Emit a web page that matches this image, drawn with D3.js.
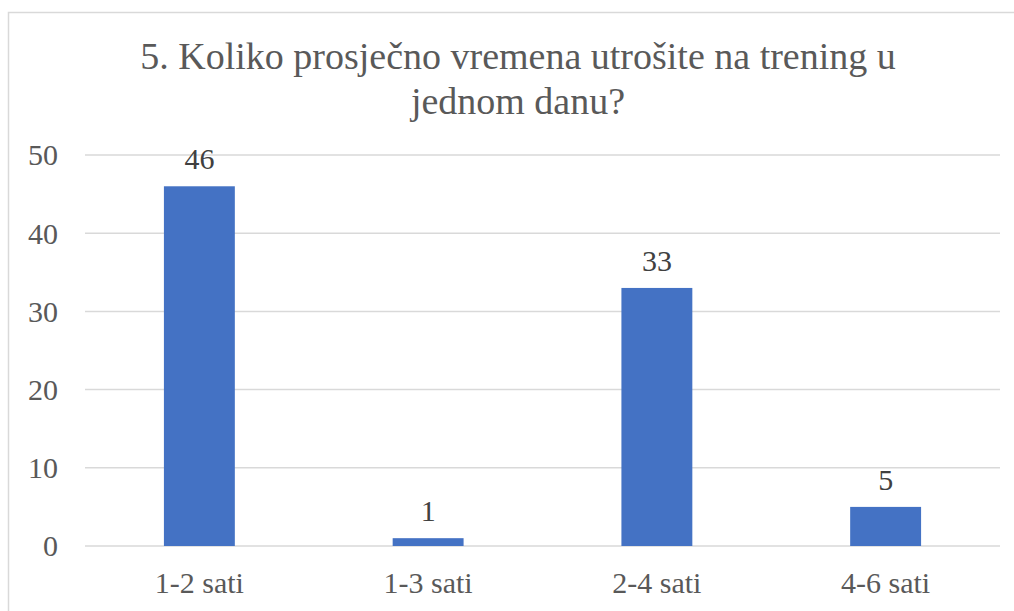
<!DOCTYPE html>
<html>
<head>
<meta charset="utf-8">
<script src="https://cdn.jsdelivr.net/npm/d3@7"></script>
<style>
  @font-face { font-family: "ChartSerif"; src: local("Liberation Serif"), local("LiberationSerif"), local("Liberation Serif Regular"), local("LiberationSerif-Regular"); }
</style>
</head>
<body style="margin:0;padding:0;background:#fff">
<svg id="chart" width="1014" height="611" style="display:block"></svg>
<script>
// data
const categories = ['1-2 sati', '1-3 sati', '2-4 sati', '4-6 sati'];
const values = [46, 1, 33, 5];
const yTicks = [0, 10, 20, 30, 40, 50];
const titleLines = ['5. Koliko prosječno vremena utrošite na trening u', 'jednom danu?'];

const width = 1014, height = 611;
const margin = { top: 155, right: 14, bottom: 65, left: 85 };
const serif = '"Liberation Serif", ChartSerif, Tinos, "Times New Roman", serif';

const svg = d3.select('#chart');

// chart frame
svg.append('rect')
  .attr('x', 8.5).attr('y', 12.5)
  .attr('width', 1030).attr('height', 640)
  .attr('fill', 'none')
  .attr('stroke', '#d9d9d9')
  .attr('stroke-width', 1.5);

const x = d3.scaleBand()
  .domain(categories)
  .range([margin.left, width - margin.right])
  .padding(0);

const y = d3.scaleLinear()
  .domain([0, 50])
  .range([height - margin.bottom, margin.top]);

const barW = x.bandwidth() * 0.31;

// grid lines
svg.append('g')
  .selectAll('line')
  .data(yTicks)
  .join('line')
    .attr('x1', margin.left)
    .attr('x2', width - margin.right)
    .attr('y1', d => y(d))
    .attr('y2', d => y(d))
    .attr('stroke', '#d9d9d9')
    .attr('stroke-width', 1.5);

// y axis labels
const yAxis = svg.append('g')
  .attr('transform', `translate(${margin.left - 27},0)`)
  .call(d3.axisLeft(y).tickValues(yTicks).tickSize(0).tickPadding(0));
yAxis.select('.domain').remove();
yAxis.selectAll('text')
  .style('font-family', serif)
  .style('font-size', '30px')
  .attr('fill', '#595959')
  .attr('dy', '0.33em');

// x axis labels
const xAxis = svg.append('g')
  .attr('transform', `translate(0,${height - margin.bottom})`)
  .call(d3.axisBottom(x).tickSize(0).tickPadding(0));
xAxis.select('.domain').remove();
xAxis.selectAll('text')
  .style('font-family', serif)
  .style('font-size', '30px')
  .attr('fill', '#595959')
  .attr('dy', null)
  .attr('y', 47);

// bars
svg.append('g')
  .attr('fill', '#4472c4')
  .selectAll('rect')
  .data(values)
  .join('rect')
    .attr('x', (d, i) => x(categories[i]) + x.bandwidth() / 2 - barW / 2)
    .attr('y', d => y(d))
    .attr('width', barW)
    .attr('height', d => y(0) - y(d));

// data labels
svg.selectAll('text.lbl')
  .data(values)
  .join('text')
    .attr('class', 'lbl')
    .attr('x', (d, i) => x(categories[i]) + x.bandwidth() / 2)
    .attr('y', d => y(d) - 17)
    .attr('text-anchor', 'middle')
    .attr('fill', '#404040')
    .style('font-family', serif)
    .style('font-size', '30px')
    .text(d => d);

// title
svg.selectAll('text.ttl')
  .data(titleLines)
  .join('text')
    .attr('class', 'ttl')
    .attr('x', 518)
    .attr('y', (d, i) => 69 + i * 45)
    .attr('text-anchor', 'middle')
    .attr('fill', '#595959')
    .style('font-family', serif)
    .style('font-size', '38px')
    .text(d => d);
</script>
</body>
</html>
